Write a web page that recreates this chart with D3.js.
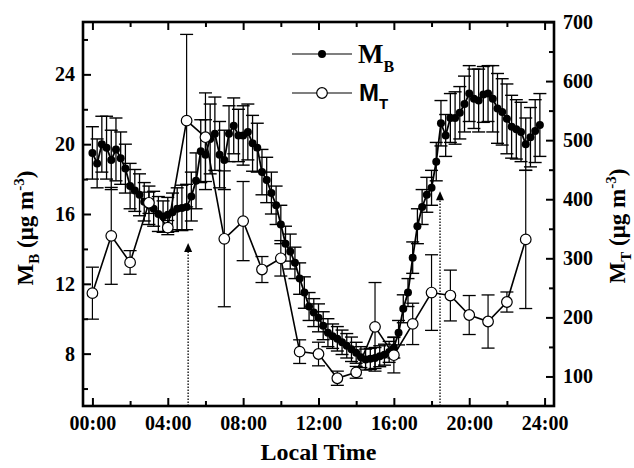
<!DOCTYPE html>
<html><head><meta charset="utf-8">
<script src="https://cdn.jsdelivr.net/npm/d3@7"></script>
<style>body{margin:0;background:#fff}svg{display:block}</style>
</head><body>
<svg id="c" width="634" height="468"></svg>
<script>
// ---- data ----
const mbTime = [0,0.25,0.5,0.75,1,1.25,1.5,1.75,2,2.25,2.5,2.75,3,3.25,3.5,3.75,
 4,4.25,4.5,4.75,5,5.25,5.5,5.75,6,6.25,6.5,6.75,7,7.25,7.5,7.75,
 8,8.25,8.5,8.75,9,9.25,9.5,9.75,10,10.25,10.5,10.75,11,11.25,11.5,11.75,
 12,12.25,12.5,12.75,13,13.25,13.5,13.75,14,14.25,14.5,14.75,15,15.25,15.5,15.75,
 16,16.25,16.5,16.75,17,17.25,17.5,17.75,18,18.25,18.5,18.75,19,19.25,19.5,19.75,
 20,20.25,20.5,20.75,21,21.25,21.5,21.75,22,22.25,22.5,22.75,23,23.25,23.5,23.75];
const mbValue = [19.5,18.9,20.0,19.8,19.1,19.7,19.2,18.6,17.6,17.35,17.1,16.7,16.5,16.3,16.0,15.85,
 15.95,16.1,16.3,16.35,16.4,17.0,17.9,19.6,19.4,20.3,20.6,19.4,19.1,20.6,21.05,20.5,
 20.5,20.7,20.05,19.8,18.4,17.95,17.2,16.5,15.4,14.3,13.85,13.2,12.3,11.5,10.7,10.35,
 10.05,9.6,9.2,9.0,8.85,8.65,8.45,8.25,8.05,7.8,7.66,7.7,7.75,7.85,7.94,8.1,
 8.35,9.2,10.57,11.5,13.5,15.3,16.4,17.1,17.5,19.0,21.2,20.5,21.5,21.5,21.8,22.3,
 22.9,22.6,22.5,22.85,22.9,22.6,22.05,21.85,21.45,21.0,20.85,20.7,20.0,20.4,20.75,21.1];
const mbError = [1.5,1.4,1.6,1.8,1.7,1.8,1.5,1.4,1.3,1.2,1.2,1.1,1.1,1.0,1.0,0.9,
 1.0,1.1,1.2,1.3,1.3,1.4,1.6,1.8,2.0,2.0,2.1,1.9,1.7,1.6,1.6,1.5,
 1.7,1.6,1.6,1.4,1.3,1.3,1.2,1.1,1.1,1.0,1.0,0.9,0.9,0.9,0.8,0.8,
 0.8,0.8,0.8,0.7,0.7,0.7,0.7,0.7,0.6,0.6,0.6,0.6,0.6,0.6,0.6,0.6,
 0.6,0.7,0.8,0.8,0.9,1.0,1.0,1.0,1.0,1.1,1.3,1.2,1.4,1.5,1.5,1.6,
 1.6,1.7,1.8,1.6,1.6,1.9,2.0,1.9,2.0,1.8,1.7,1.7,1.5,1.7,1.8,1.8];

const mtTime  = [0,1,2,3,4,5,6,7,8,9,10,11,12,13,14,15,16,17,18,19,20,21,22,23];
const mtValue = [241,338,293,394,352,533,505,333,363,281,300,142,138,97,107,184,136,189,242,237,204,193,226,332];
const mtError = [44,82,20,18,12,146,75,115,67,22,30,20,20,12,10,75,30,35,64,43,33,45,17,117];

// event markers (dotted lines with arrow), time in hours, tip height in M_B units
const eventTime = [5.08, 18.45];
const eventTip  = [14.34, 17.3];

const xTicks = [0,4,8,12,16,20,24];
const xMinor = [2,6,10,14,18,22];
const yLTicks = [8,12,16,20,24];
const yLMinor = [6,10,14,18,22,26];
const yRTicks = [100,200,300,400,500,600,700];
const yRMinor = [150,250,350,450,550,650];

// ---- layout ----
const L=83, R=554, T=22, B=406;
const svg = d3.select("#c");
const x  = d3.scaleLinear().domain([-0.5,24.5]).range([L,R]);
const yL = d3.scaleLinear().domain([5,27]).range([B,T]);
const yR = d3.scaleLinear().domain([50,700]).range([B,T]);
const serif = "'Liberation Serif','Times New Roman',serif";
const sans  = "'Liberation Sans',Arial,sans-serif";
const fmtH = h => String(h).padStart(2,"0")+":00";

function styleAxis(g){
  g.select(".domain").remove();
  g.selectAll(".tick line").attr("stroke","#000").attr("stroke-width",2);
  g.selectAll(".tick text").attr("font-family",serif).attr("font-weight","bold")
   .attr("font-size",20).attr("fill","#000");
}
// bottom
svg.append("g").attr("transform",`translate(0,${B})`)
  .call(d3.axisBottom(x).tickValues(xTicks).tickFormat(fmtH).tickSizeInner(-8).tickSizeOuter(0).tickPadding(10))
  .call(styleAxis);
svg.append("g").attr("transform",`translate(0,${B})`)
  .call(d3.axisBottom(x).tickValues(xMinor).tickFormat("").tickSizeInner(-5).tickSizeOuter(0))
  .call(styleAxis);
// top
svg.append("g").attr("transform",`translate(0,${T})`)
  .call(d3.axisTop(x).tickValues(xTicks).tickFormat("").tickSizeInner(-8).tickSizeOuter(0))
  .call(styleAxis);
svg.append("g").attr("transform",`translate(0,${T})`)
  .call(d3.axisTop(x).tickValues(xMinor).tickFormat("").tickSizeInner(-5).tickSizeOuter(0))
  .call(styleAxis);
// left
svg.append("g").attr("transform",`translate(${L},0)`)
  .call(d3.axisLeft(yL).tickValues(yLTicks).tickFormat(d3.format("d")).tickSizeInner(-8).tickSizeOuter(0).tickPadding(8))
  .call(styleAxis);
svg.append("g").attr("transform",`translate(${L},0)`)
  .call(d3.axisLeft(yL).tickValues(yLMinor).tickFormat("").tickSizeInner(-5).tickSizeOuter(0))
  .call(styleAxis);
// right
svg.append("g").attr("transform",`translate(${R},0)`)
  .call(d3.axisRight(yR).tickValues(yRTicks).tickFormat(d3.format("d")).tickSizeInner(-8).tickSizeOuter(0).tickPadding(9))
  .call(styleAxis);
svg.append("g").attr("transform",`translate(${R},0)`)
  .call(d3.axisRight(yR).tickValues(yRMinor).tickFormat("").tickSizeInner(-5).tickSizeOuter(0))
  .call(styleAxis);

// event markers
eventTime.forEach((t,i)=>{
  const xp = x(t), tip = yL(eventTip[i]);
  svg.append("line").attr("x1",xp).attr("x2",xp).attr("y1",B).attr("y2",tip+9)
    .attr("stroke","#000").attr("stroke-width",1.3).attr("stroke-dasharray","1.5,1.5");
  svg.append("path").attr("d",`M${xp},${tip}L${xp-4},${tip+9}L${xp+4},${tip+9}Z`).attr("fill","#000");
});

// M_B
const mb = mbTime.map((t,i)=>({t, v:mbValue[i], e:mbError[i]}));
const gb = svg.append("g");
gb.selectAll("line.v").data(mb).join("line")
  .attr("x1",d=>x(d.t)).attr("x2",d=>x(d.t)).attr("y1",d=>yL(d.v-d.e)).attr("y2",d=>yL(d.v+d.e))
  .attr("stroke","#000").attr("stroke-width",1.3);
["v-e","v+e"].forEach(k=>{
  gb.selectAll(null).data(mb).join("line")
    .attr("x1",d=>x(d.t)-6.5).attr("x2",d=>x(d.t)+6.5)
    .attr("y1",d=>yL(k==="v-e"?d.v-d.e:d.v+d.e)).attr("y2",d=>yL(k==="v-e"?d.v-d.e:d.v+d.e))
    .attr("stroke","#000").attr("stroke-width",1.4);
});
gb.append("path").datum(mb).attr("fill","none").attr("stroke","#000").attr("stroke-width",1.8)
  .attr("d",d3.line().x(d=>x(d.t)).y(d=>yL(d.v)));
gb.selectAll("circle").data(mb).join("circle")
  .attr("cx",d=>x(d.t)).attr("cy",d=>yL(d.v)).attr("r",4).attr("fill","#000");

// M_T
const mt = mtTime.map((t,i)=>({t, v:mtValue[i], e:mtError[i]}));
const gt = svg.append("g");
gt.selectAll("line.v").data(mt).join("line")
  .attr("x1",d=>x(d.t)).attr("x2",d=>x(d.t)).attr("y1",d=>yR(d.v-d.e)).attr("y2",d=>yR(d.v+d.e))
  .attr("stroke","#000").attr("stroke-width",1.2);
["lo","hi"].forEach(k=>{
  gt.selectAll(null).data(mt).join("line")
    .attr("x1",d=>x(d.t)-6.5).attr("x2",d=>x(d.t)+6.5)
    .attr("y1",d=>yR(k==="lo"?d.v-d.e:d.v+d.e)).attr("y2",d=>yR(k==="lo"?d.v-d.e:d.v+d.e))
    .attr("stroke","#000").attr("stroke-width",1.3);
});
gt.append("path").datum(mt).attr("fill","none").attr("stroke","#000").attr("stroke-width",1.6)
  .attr("d",d3.line().x(d=>x(d.t)).y(d=>yR(d.v)));
gt.selectAll("circle").data(mt).join("circle")
  .attr("cx",d=>x(d.t)).attr("cy",d=>yR(d.v)).attr("r",5.3)
  .attr("fill","#fff").attr("stroke","#000").attr("stroke-width",1.2);

// frame
svg.append("rect").attr("x",L).attr("y",T).attr("width",R-L).attr("height",B-T)
  .attr("fill","none").attr("stroke","#000").attr("stroke-width",2.6);

// legend
const lg = svg.append("g");
lg.append("line").attr("x1",292).attr("x2",352).attr("y1",54).attr("y2",54).attr("stroke","#000").attr("stroke-width",1.2);
lg.append("circle").attr("cx",322).attr("cy",54).attr("r",4).attr("fill","#000");
const t1 = lg.append("text").attr("x",358).attr("y",63).attr("font-family",serif).attr("font-weight","bold").attr("font-size",27);
t1.append("tspan").text("M");
t1.append("tspan").attr("font-size",16).attr("dy",9).text("B");
lg.append("line").attr("x1",292).attr("x2",352).attr("y1",93).attr("y2",93).attr("stroke","#000").attr("stroke-width",1.2);
lg.append("circle").attr("cx",322).attr("cy",93).attr("r",5.3).attr("fill","#fff").attr("stroke","#000").attr("stroke-width",1.2);
const t2 = lg.append("text").attr("x",359).attr("y",101).attr("font-family",sans).attr("font-weight","bold").attr("font-size",24);
t2.append("tspan").text("M");
t2.append("tspan").attr("font-size",15).attr("dy",8).text("T");

// axis titles
svg.append("text").attr("x",(L+R)/2).attr("y",460).attr("text-anchor","middle")
  .attr("font-family",serif).attr("font-weight","bold").attr("font-size",24).text("Local Time");
function yTitle(xp, yc, sub){
  const t = svg.append("text").attr("transform",`translate(${xp},${yc}) rotate(-90)`)
    .attr("text-anchor","middle").attr("font-family",serif).attr("font-weight","bold").attr("font-size",23);
  t.append("tspan").text("M");
  t.append("tspan").attr("font-size",15).attr("dy",6).text(sub);
  t.append("tspan").attr("dy",-6).text(" (\u03bcg m");
  t.append("tspan").attr("font-size",15).attr("dy",-9).text("-3");
  t.append("tspan").attr("dy",9).text(")");
}
yTitle(33, 228, "B");
yTitle(625, 226, "T");
</script>
</body></html>
